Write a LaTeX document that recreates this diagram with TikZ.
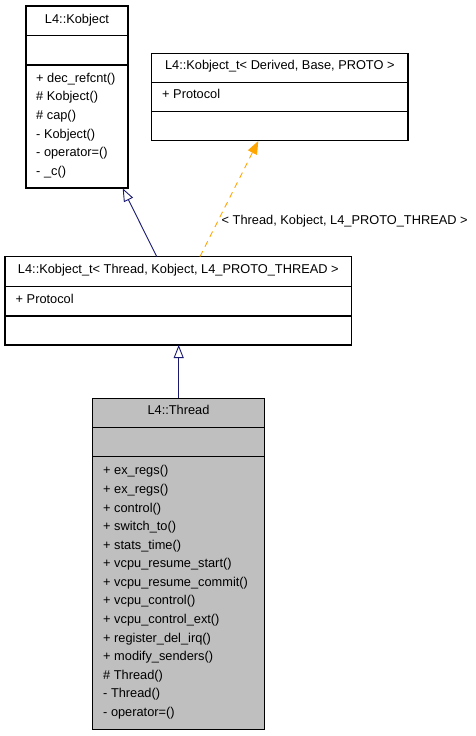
\documentclass[tikz,border=0pt]{standalone}
\usepackage{fontspec}
\setmainfont{Liberation Sans}
\usetikzlibrary{arrows.meta}
\definecolor{edgeblue}{HTML}{191970}
\definecolor{edgeorange}{HTML}{FFA500}
\definecolor{classgray}{HTML}{BFBFBF}
\begin{document}
\begin{tikzpicture}[x=1pt,y=-1pt,
  txt/.style={inner sep=0pt,text height=9pt,text depth=2.6pt,font=\fontsize{12.8}{15}\selectfont},
  mem/.style={txt,anchor=west},
  ttl/.style={txt,anchor=center},
  boxline/.style={line width=1.1pt,draw=black},
  inherit/.style={draw=edgeblue,line width=0.9pt,-{Triangle[open,length=13pt,width=10pt]}},
  tmpl/.style={draw=edgeorange,line width=0.9pt,dash pattern=on 6pt off 5pt,-{Triangle[length=13pt,width=10pt]}}]
\useasboundingbox (0,0) rectangle (476,736);
% L4::Kobject
\draw[boxline] (26,6) rectangle (128,188);
\draw[boxline] (26,35.5) -- (128,35.5);
\draw[boxline] (26,65) -- (128,65);
\node[ttl] (kobt) at (77,20.6) {L4::Kobject};
\coordinate (kobB) at (122.7,188.3);
\node[mem] (k1) at (36,79) {+ dec\_refcnt()};
\node[mem] (k2) at (36,97.6) {\# Kobject()};
\node[mem] (k3) at (36,116.2) {\# cap()};
\node[mem] (k4) at (36,134.8) {- Kobject()};
\node[mem] (k5) at (36,153.4) {- operator=()};
\node[mem] (k6) at (36,172) {- \_c()};
% L4::Kobject_t generic
\draw[boxline] (151.7,53.3) rectangle (408,140.7);
\draw[boxline] (151.7,82.7) -- (408,82.7);
\draw[boxline] (151.7,111.7) -- (408,111.7);
\node[ttl] (gent) at (279.8,66.7) {L4::Kobject\_t< Derived, Base, PROTO >};
\node[mem] (g1) at (162,95.7) {+ Protocol};
\coordinate (genB) at (258.3,141);
% L4::Kobject_t instance
\draw[boxline] (5,256.7) rectangle (351.7,345);
\draw[boxline] (5,286.7) -- (351.7,286.7);
\draw[boxline] (5,316) -- (351.7,316);
\node[ttl] (midt) at (178.3,270.7) {L4::Kobject\_t< Thread, Kobject, L4\_PROTO\_THREAD >};
\node[mem] (m1) at (15.5,300) {+ Protocol};
\coordinate (midTL) at (156.7,256.5);
\coordinate (midTR) at (200,256.5);
\coordinate (midB) at (178.7,345);
% L4::Thread
\draw[boxline,fill=classgray] (92.7,398.3) rectangle (264.3,729.3);
\draw[boxline] (92.7,427.7) -- (264.3,427.7);
\draw[boxline] (92.7,456.7) -- (264.3,456.7);
\node[ttl] (thrt) at (178.5,411.7) {L4::Thread};
\coordinate (thrT) at (178.7,398.3);
\foreach \t [count=\i from 0] in {+ ex\_regs(),+ ex\_regs(),+ control(),+ switch\_to(),+ stats\_time(),+ vcpu\_resume\_start(),+ vcpu\_resume\_commit(),+ vcpu\_control(),+ vcpu\_control\_ext(),+ register\_del\_irq(),+ modify\_senders(),\# Thread(),- Thread(),- operator=()}
  \node[mem] (t\i) at (103,471.7+18.58*\i) {\t};
% connectors
\draw[inherit] (midTL) -- (kobB);
\draw[tmpl] (midTR) -- (genB);
\node[mem] (lab) at (221.5,221) {< Thread, Kobject, L4\_PROTO\_THREAD >};
\draw[inherit] (thrT) -- (midB);
\end{tikzpicture}
\end{document}
